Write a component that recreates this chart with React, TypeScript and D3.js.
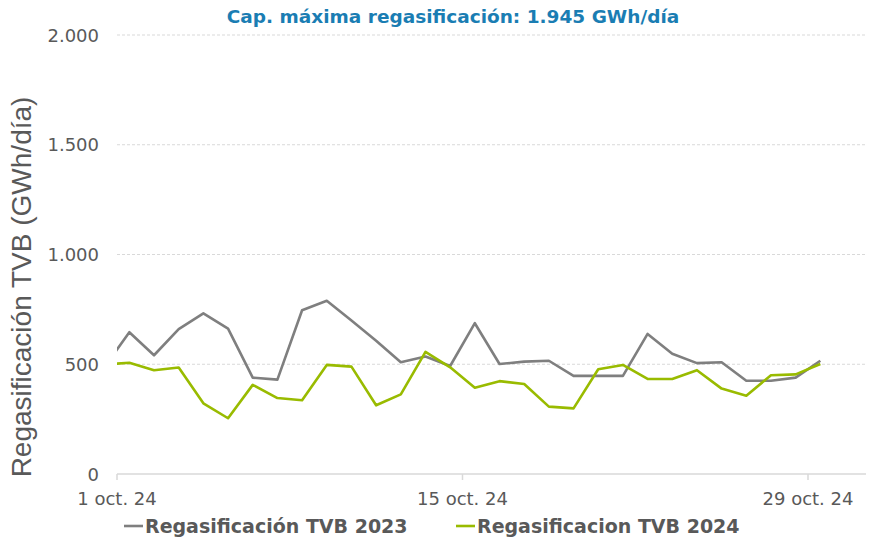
import React from "react";
import * as d3 from "d3";

const dates: string[] = [
  "2024-09-30","2024-10-01","2024-10-02","2024-10-03","2024-10-04","2024-10-05","2024-10-06","2024-10-07",
  "2024-10-08","2024-10-09","2024-10-10","2024-10-11","2024-10-12","2024-10-13","2024-10-14","2024-10-15",
  "2024-10-16","2024-10-17","2024-10-18","2024-10-19","2024-10-20","2024-10-21","2024-10-22","2024-10-23",
  "2024-10-24","2024-10-25","2024-10-26","2024-10-27","2024-10-28","2024-10-29",
];
const series2023: number[] = [
  489, 646, 541, 660, 732, 662, 439, 430, 746, 789, 699, 607, 509, 535, 492, 687,
  501, 512, 516, 447, 447, 447, 638, 548, 505, 509, 425, 425, 439, 516,
];
const series2024: number[] = [
  499, 507, 473, 485, 322, 254, 406, 346, 336, 497, 489, 313, 363, 556, 486, 393,
  423, 410, 307, 299, 477, 497, 433, 433, 473, 389, 357, 450, 454, 501,
];
const yTicks: number[] = [0, 500, 1000, 1500, 2000];
const xTickDates: string[] = ["2024-10-01", "2024-10-15", "2024-10-29"];
const xTickLabels: string[] = ["1 oct. 24", "15 oct. 24", "29 oct. 24"];
const seriesNames: string[] = ["Regasificación TVB 2023", "Regasificacion TVB 2024"];
const title = "Cap. máxima regasificación: 1.945 GWh/día";
const yTitle = "Regasificación TVB (GWh/día)";

const W = 870, H = 537;
const left = 117, right = 866, top = 35, bottom = 474;
const colors = ["#7f7f7f", "#99bb00"];

export default function App() {
  const parse = d3.utcParse("%Y-%m-%d");
  const x = d3.scaleUtc()
    .domain([parse("2024-10-01")!, parse("2024-10-29")!])
    .range([left, 808]);
  const y = d3.scaleLinear().domain([0, 2000]).range([bottom, top]);
  const fmt = (v: number) => d3.format(",")(v).replace(/,/g, ".");
  const pts = (vals: number[]) =>
    vals.map((v, i) => [x(d3.utcHour.offset(parse(dates[i])!, 12)), y(v)] as [number, number]);
  const line = d3.line<[number, number]>();
  const series = [series2023, series2024];
  const font = "'DejaVu Sans', Verdana, sans-serif";

  return (
    <svg width={W} height={H} style={{ position: "absolute", left: 0, top: 0, background: "#fff" }}>
      <defs>
        <clipPath id="plot">
          <rect x={left} y={0} width={right - left} height={bottom} />
        </clipPath>
      </defs>
      <text x={453} y={23} textAnchor="middle" fontFamily={font} fontWeight="bold" fontSize={18.5} fill="#1a7db3">
        {title}
      </text>
      {yTicks.map((t) => (
        <g key={t}>
          {t > 0 && (
            <line x1={left} x2={right} y1={y(t)} y2={y(t)} stroke="#d9d9d9" strokeWidth={1} strokeDasharray="3,2" />
          )}
          <text x={99} y={y(t) + 6.5} textAnchor="end" fontFamily={font} fontSize={18} fill="#595959">
            {fmt(t)}
          </text>
        </g>
      ))}
      <line x1={left} x2={right} y1={bottom} y2={bottom} stroke="#d9d9d9" strokeWidth={1.5} />
      {xTickDates.map((d, i) => {
        const xx = x(parse(d)!);
        return (
          <g key={d}>
            <line x1={xx} x2={xx} y1={bottom} y2={bottom + 6} stroke="#d9d9d9" strokeWidth={1.5} />
            <text x={xx} y={505} textAnchor="middle" fontFamily={font} fontSize={18} fill="#595959">
              {xTickLabels[i]}
            </text>
          </g>
        );
      })}
      <text
        transform={`translate(31,${287}) rotate(-90)`}
        textAnchor="middle"
        fontFamily="'Liberation Sans', Arial, sans-serif"
        fontSize={28}
        fill="#595959"
      >
        {yTitle}
      </text>
      <g clipPath="url(#plot)">
        {series.map((s, i) => (
          <path key={i} d={line(pts(s))!} fill="none" stroke={colors[i]} strokeWidth={2.6} strokeLinejoin="round" />
        ))}
      </g>
      {seriesNames.map((n, i) => {
        const lx = i === 0 ? 124 : 456;
        return (
          <g key={n}>
            <line x1={lx} x2={lx + 19} y1={526} y2={526} stroke={colors[i]} strokeWidth={2.6} />
            <text x={lx + 21} y={533} fontFamily={font} fontWeight="bold" fontSize={19} fill="#595959">
              {n}
            </text>
          </g>
        );
      })}
    </svg>
  );
}
